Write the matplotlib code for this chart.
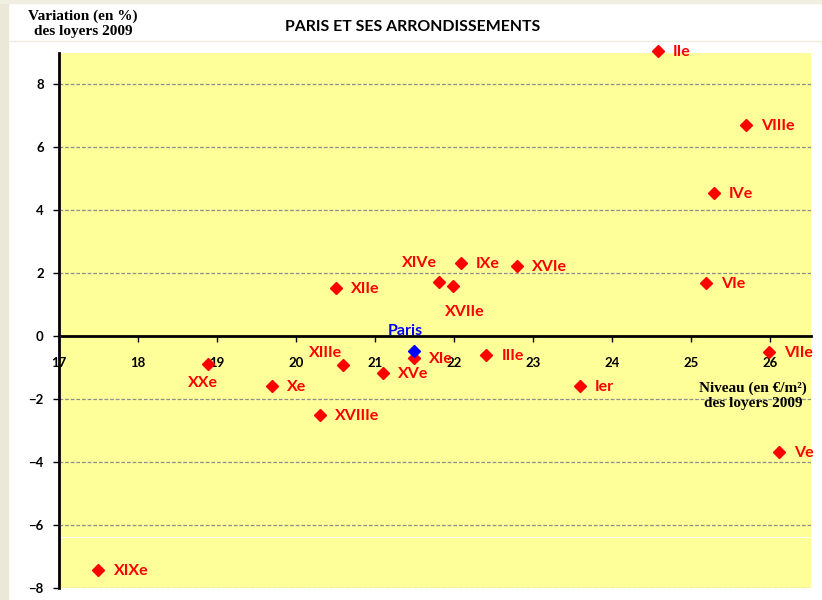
import numpy as np
import matplotlib
matplotlib.use("Agg")
import matplotlib.pyplot as plt
from matplotlib.patches import Rectangle
from matplotlib.lines import Line2D

# data
noms = ["XIXe", "XXe", "Xe", "XVIIIe", "XIIIe", "XIIe", "XVe", "XIe", "XIVe",
        "XVIIe", "IXe", "XVIe", "IIIe", "Ier", "IIe", "VIIIe", "IVe", "VIe",
        "VIIe", "Ve"]
niveau = [17.50, 18.89, 19.70, 20.30, 20.59, 20.51, 21.10, 21.49, 21.81,
          21.99, 22.09, 22.80, 22.41, 23.59, 24.58, 25.70, 25.29, 25.19,
          25.99, 26.11]
variation = [-7.43, -0.89, -1.59, -2.49, -0.90, 1.52, -1.18, -0.68, 1.71,
             1.60, 2.33, 2.22, -0.61, -1.58, 9.05, 6.70, 4.54, 1.70,
             -0.50, -3.69]
paris_niveau = 21.49
paris_variation = -0.48

x_ticks = [17, 18, 19, 20, 21, 22, 23, 24, 25, 26]
y_ticks = [-8, -6, -4, -2, 0, 2, 4, 6, 8]

# label offsets in pixels (dx, dy, ha); default right of the point
offsets = {
    "XXe": (-5, -19, "center"),
    "XIIIe": (-17, 12, "center"),
    "XIVe": (-19, 19, "center"),
    "XVIIe": (12, -26, "center"),
}

W, H = 822, 600
fig = plt.figure(figsize=(W / 100, H / 100), dpi=100)
fig.patch.set_facecolor("white")

# slide frame bits
fig.patches.append(Rectangle((0, 0), 8 / W, 1, transform=fig.transFigure,
                             color="#ECE8D8", zorder=0))
fig.patches.append(Rectangle((0, 1 - 3 / H), 1, 3 / H, transform=fig.transFigure,
                             color="#F1EEE2", zorder=0))
fig.lines.append(Line2D([8 / W, 1], [1 - 40.5 / H, 1 - 40.5 / H],
                        transform=fig.transFigure, color="#EFECDF", lw=1))

ax = fig.add_axes([59 / W, 12 / H, (811 - 59) / W, (588 - 53) / H])
ax.set_facecolor("#FFFF99")
ax.set_xlim(17, 26.52)
ax.set_ylim(-8, 9)

for s in ["top", "right"]:
    ax.spines[s].set_visible(False)
ax.spines["left"].set_linewidth(2)
ax.spines["bottom"].set_linewidth(2)
ax.spines["bottom"].set_position(("data", 0))
ax.spines["bottom"].set_zorder(3)

ax.set_xticks(x_ticks)
ax.set_yticks(y_ticks)
ax.tick_params(axis="x", direction="out", length=4, width=1, pad=11)
ax.tick_params(axis="y", direction="out", length=4, width=1, pad=7)
for lab in ax.get_xticklabels() + ax.get_yticklabels():
    lab.set_fontweight("bold")
    lab.set_fontsize(9.5)
    lab.set_fontfamily("Lato")

for yv in y_ticks:
    if yv != 0:
        ax.axhline(yv, color="#8C8C8C", lw=0.9, ls=(0, (3, 1.5)), zorder=1)
ax.axhline(-6.38, color="white", lw=0.8, zorder=1)

ax.plot(niveau, variation, ls="none", marker="D", ms=6.5, color="#FF0000",
        zorder=4, clip_on=False)
ax.plot([paris_niveau], [paris_variation], ls="none", marker="D", ms=6.5,
        color="#0000FF", zorder=5, clip_on=False)

for n, xv, yv in zip(noms, niveau, variation):
    dx, dy, ha = offsets.get(n, (15, -1, "left"))
    ax.annotate(n, (xv, yv), xytext=(dx * 0.72, dy * 0.72),
                textcoords="offset points", ha=ha, va="center",
                color="#FF0000", fontsize=11.5, fontweight="bold",
                family="Lato", annotation_clip=False, zorder=6)
ax.annotate("Paris", (paris_niveau, paris_variation), xytext=(-8 * 0.72, 20 * 0.72),
            textcoords="offset points", ha="center", va="center",
            color="#0000FF", fontsize=11.5, fontweight="bold", family="Lato",
            zorder=6)

fig.text(413 / W, 1 - 27 / H, "PARIS ET SES ARRONDISSEMENTS", ha="center",
         va="center", fontsize=11.4, fontweight="bold", family="Lato")
fig.text(83 / W, 1 - 24 / H, "Variation (en %)\ndes loyers 2009", ha="center",
         va="center", fontsize=11, fontweight="bold", family="Liberation Serif",
         linespacing=1.15)
fig.text(753 / W, 1 - 396 / H, "Niveau (en €/m²)\ndes loyers 2009", ha="center",
         va="center", fontsize=11, fontweight="bold", family="Liberation Serif",
         linespacing=1.15, zorder=10)

fig.savefig("out.png", dpi=100)
